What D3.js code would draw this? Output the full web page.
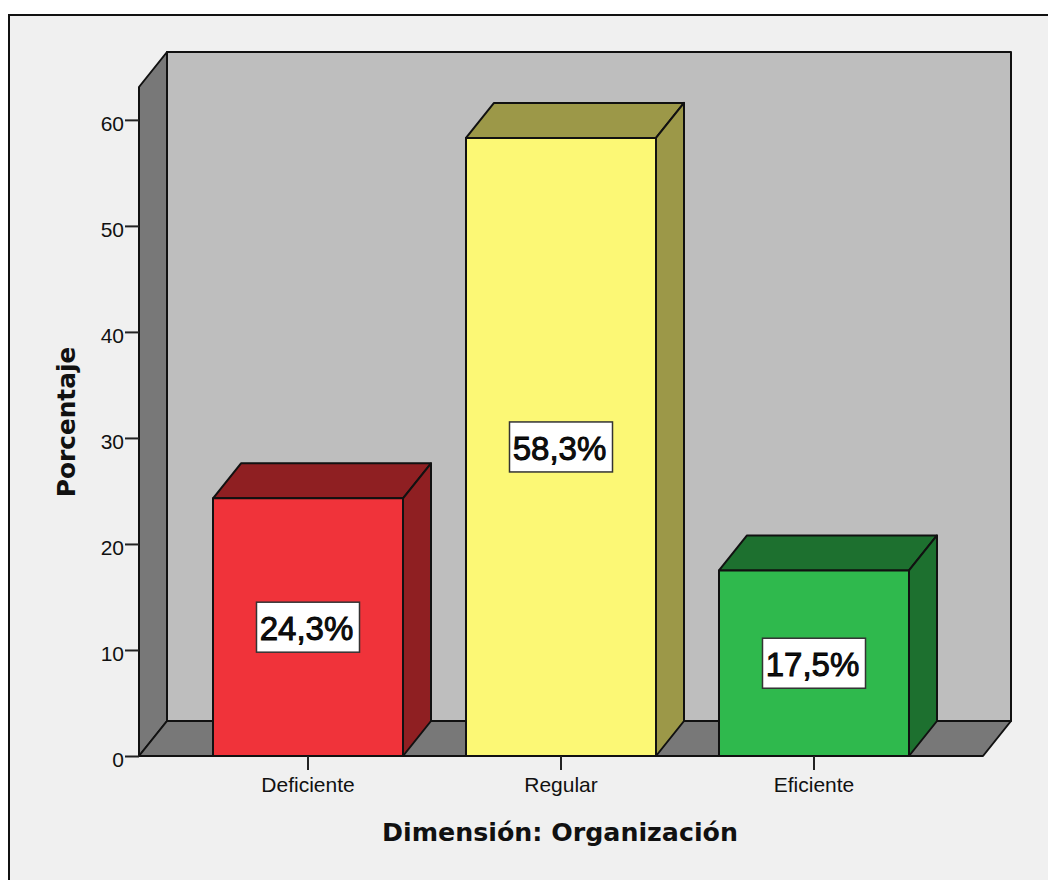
<!DOCTYPE html>
<html lang="es">
<head>
<meta charset="utf-8">
<title>Dimensión: Organización</title>
<script src="https://cdn.jsdelivr.net/npm/d3@7"></script>
<style>
  html, body { margin: 0; padding: 0; background: #fff; }
  svg { display: block; }
  text { fill: #111; }
</style>
</head>
<body>
<svg id="chart" width="1048" height="880"></svg>
<script>
// Percentage of responses per level
const categories = ["Deficiente", "Regular", "Eficiente"];
const percentages = [24.3, 58.3, 17.5];
const valueLabels = ["24,3%", "58,3%", "17,5%"];
const yTicks = [0, 10, 20, 30, 40, 50, 60];
const frontColors = ["#f0333a", "#fcf875", "#2fb94d"];
const shadeColors = ["#8f1f22", "#9c9848", "#1d702f"];
const xTitle = "Dimensión: Organización";
const yTitle = "Porcentaje";

const svg = d3.select("#chart");
const depth = { dx: 28, dy: -35 };
const plot = { left: 139, right: 983, bottom: 756 };
const line = { stroke: "#111", "stroke-width": 2, "stroke-linejoin": "round" };

const x = d3.scaleBand().domain(categories)
  .range([plot.left, plot.right])
  .paddingInner(0.249).paddingOuter(0.2925);
const y = d3.scaleLinear().domain([0, 63.1]).range([plot.bottom, 87]);

const poly = (g, pts, fill) => {
  const p = g.append("polygon")
    .attr("points", pts.map(q => q.join(",")).join(" "))
    .attr("fill", fill);
  Object.entries(line).forEach(([k, v]) => p.attr(k, v));
  return p;
};

// Outer frame
svg.append("rect").attr("x", 9).attr("y", 15).attr("width", 1060).attr("height", 890)
  .attr("fill", "#f0f0f0").attr("stroke", "#111").attr("stroke-width", 2);

// Box: back wall, left wall and floor
const box = svg.append("g");
const T = y.range()[1];
const L = plot.left, R = plot.right, B = plot.bottom, D = depth;
poly(box, [[L + D.dx, T + D.dy], [R + D.dx, T + D.dy], [R + D.dx, B + D.dy], [L + D.dx, B + D.dy]], "#bebebe");
poly(box, [[L, T], [L + D.dx, T + D.dy], [L + D.dx, B + D.dy], [L, B]], "#787878");
poly(box, [[L, B], [L + D.dx, B + D.dy], [R + D.dx, B + D.dy], [R, B]], "#787878");

// Extruded bars
const bars = svg.append("g").selectAll("g").data(categories).join("g");
bars.each(function (c, i) {
  const g = d3.select(this);
  const x0 = x(c), x1 = x0 + x.bandwidth(), yt = y(percentages[i]);
  poly(g, [[x0, yt], [x0 + D.dx, yt + D.dy], [x1 + D.dx, yt + D.dy], [x1, yt]], shadeColors[i]);
  poly(g, [[x1, yt], [x1 + D.dx, yt + D.dy], [x1 + D.dx, B + D.dy], [x1, B]], shadeColors[i]);
  poly(g, [[x0, yt], [x1, yt], [x1, B], [x0, B]], frontColors[i]);
});

// Axes
const yAxis = svg.append("g").attr("transform", `translate(${L},0)`)
  .call(d3.axisLeft(y).tickValues(yTicks).tickSize(14).tickPadding(1).tickFormat(d3.format("d")));
const xAxis = svg.append("g").attr("transform", `translate(0,${B})`)
  .call(d3.axisBottom(x).tickSize(14).tickPadding(7));
[yAxis, xAxis].forEach(a => {
  a.select(".domain").remove();
  a.selectAll(".tick line").attr("stroke", "#222").attr("stroke-width", 2);
  a.selectAll("text").attr("font-family", "'Liberation Sans', Arial, sans-serif")
    .attr("font-size", 21).attr("fill", "#222");
});
yAxis.selectAll("text").attr("dy", "0.5em");

// Value labels in white boxes, centred on each bar
const labels = svg.append("g").selectAll("g").data(categories).join("g")
  .attr("transform", (c, i) => `translate(${x(c) + x.bandwidth() / 2},${(y(percentages[i]) + B) / 2})`);
labels.append("rect").attr("x", -51.5).attr("y", -25).attr("width", 103).attr("height", 50)
  .attr("fill", "#fff").attr("stroke", "#333").attr("stroke-width", 1.5);
labels.append("text").text((c, i) => valueLabels[i])
  .attr("x", -1.5).attr("y", 1).attr("text-anchor", "middle").attr("dy", "0.36em")
  .attr("font-family", "'Liberation Sans', Arial, sans-serif")
  .attr("font-size", 33).attr("fill", "#000").attr("stroke", "#000").attr("stroke-width", 0.9);

// Axis titles
svg.append("text").text(xTitle)
  .attr("x", 560).attr("y", 841).attr("text-anchor", "middle")
  .attr("font-family", "'DejaVu Sans', Verdana, sans-serif").attr("font-weight", "bold")
  .attr("font-size", 25.3);
svg.append("text").text(yTitle)
  .attr("transform", "translate(75,422) rotate(-90)").attr("text-anchor", "middle")
  .attr("font-family", "'DejaVu Sans', Verdana, sans-serif").attr("font-weight", "bold")
  .attr("font-size", 24.8);
</script>
</body>
</html>
